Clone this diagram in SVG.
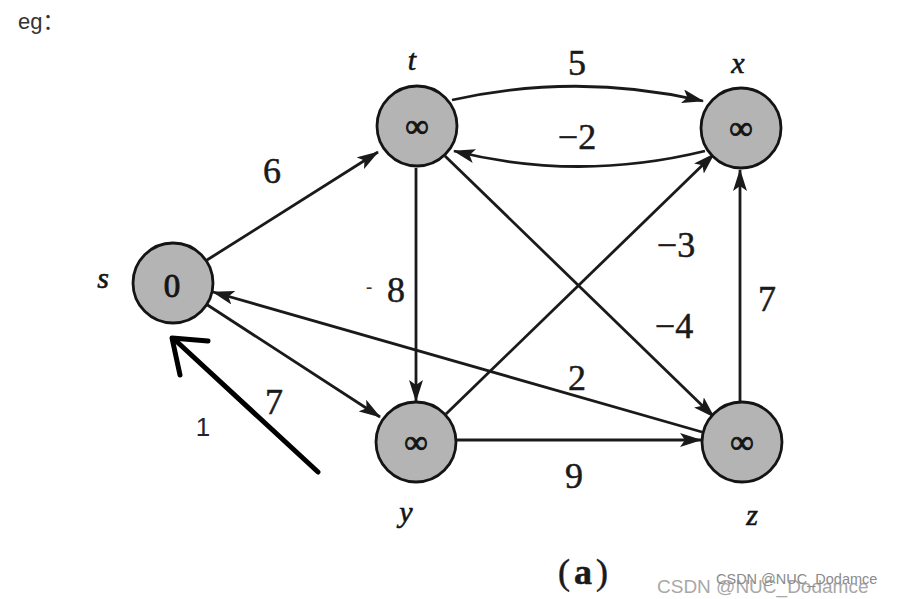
<svg xmlns="http://www.w3.org/2000/svg" width="905" height="599" viewBox="0 0 905 599">
<style>
.node circle{fill:#b4b4b4;stroke:#141414;stroke-width:2.8}
.sym{font-family:"Liberation Serif",serif;font-size:33px;fill:#141414;stroke:#141414;stroke-width:0.9;text-anchor:middle}
.nl{font-family:"Liberation Serif",serif;font-style:italic;font-size:30px;fill:#141414;stroke:#141414;stroke-width:0.6;text-anchor:middle}
.el{font-family:"Liberation Serif",serif;font-size:36px;fill:#1a1a1a;stroke:#1a1a1a;stroke-width:0.5;text-anchor:middle}
.edge{fill:none;stroke:#1a1a1a;stroke-width:2.8;marker-end:url(#ah)}
.sans{font-family:"Liberation Sans",Arial,sans-serif}
</style>
<defs>
<marker id="ah" markerUnits="userSpaceOnUse" markerWidth="24" markerHeight="14" refX="21" refY="7" orient="auto">
<path d="M0,0 L22,7 L0,14 L5,7 Z" fill="#1a1a1a"/>
</marker>
</defs>
<rect width="905" height="599" fill="#ffffff"/>
<text x="18" y="29" class="sans" font-size="22" fill="#333">eg<tspan font-family="Noto Sans CJK SC,sans-serif">：</tspan></text>

<g id="connectors">
<path class="edge" d="M207,260 L378,152"/>
<path class="edge" d="M206,304 L380,417"/>
<path class="edge" d="M702,432 L213,292"/>
<path class="edge" d="M452,100 Q578,72 703,101"/>
<path class="edge" d="M705,151 Q578,182 454,151"/>
<path class="edge" d="M416,168 L416,401"/>
<path class="edge" d="M445,156 L714,417"/>
<path class="edge" d="M446,414 L714,154"/>
<path class="edge" d="M457,440 L701,440"/>
<path class="edge" d="M740,402 L740,170"/>
</g>

<g id="node-s" class="node"><circle cx="173" cy="283" r="40"/><text x="172" y="297" class="sym" font-size="40">0</text><text x="103" y="288" class="nl">s</text></g>
<g id="node-t" class="node"><circle cx="417" cy="126" r="40"/><text x="417" y="137" class="sym">∞</text><text x="412" y="70" class="nl">t</text></g>
<g id="node-x" class="node"><circle cx="741" cy="128" r="40"/><text x="741" y="139" class="sym">∞</text><text x="738" y="73" class="nl">x</text></g>
<g id="node-y" class="node"><circle cx="416" cy="442" r="40"/><text x="416" y="453" class="sym">∞</text><text x="406" y="522" class="nl">y</text></g>
<g id="node-z" class="node"><circle cx="742" cy="442" r="40"/><text x="742" y="453" class="sym">∞</text><text x="752" y="525" class="nl" font-style="normal">z</text></g>

<g id="edge-labels">
<text x="577" y="75" class="el">5</text>
<text x="577" y="149" class="el">−2</text>
<text x="272" y="183" class="el">6</text>
<text x="396" y="302" class="el">8</text>
<text x="369" y="294" class="sans" font-size="20" fill="#333" text-anchor="middle">-</text>
<text x="676" y="257" class="el">−3</text>
<text x="674" y="338" class="el">−4</text>
<text x="767" y="311" class="el">7</text>
<text x="577" y="390" class="el">2</text>
<text x="274" y="414" class="el">7</text>
<text x="574" y="488" class="el">9</text>
<text x="585" y="584" class="el" font-size="35" letter-spacing="4">(<tspan font-weight="bold">a</tspan>)</text>
</g>

<g id="annotation">
<path d="M318,472 L174,339" stroke="#000" stroke-width="5" fill="none" stroke-linecap="round"/>
<path d="M208,341 L172,338 L180,375" stroke="#000" stroke-width="5" fill="none" stroke-linecap="round" stroke-linejoin="round"/>
<text x="203" y="436" class="sans" font-size="26" fill="#223" text-anchor="middle">1</text>
</g>

<text x="657" y="593" class="sans" font-size="19" fill="#a8a8a8">CSDN @NUC_Dodamce</text>
<text x="716" y="584" class="sans" font-size="14.5" fill="#8a8a8a">CSDN @NUC_Dodamce</text>
</svg>
